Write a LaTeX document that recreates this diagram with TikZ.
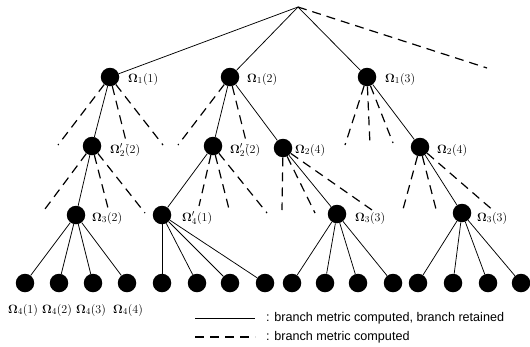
\documentclass[tikz,border=0pt]{standalone}
\usepackage{fontspec}
\usepackage{bm}
\newfontfamily\legendfont{Liberation Sans}
\newcommand{\Om}{\bm{\Omega}}
\begin{document}
\begin{tikzpicture}[x=1pt,y=-1pt,
  dot/.style={circle,fill=black,inner sep=0pt,minimum size=18.5pt},
  keep/.style={line width=0.75pt},
  comp/.style={line width=1.2pt,dash pattern=on 9pt off 6pt},
  lab/.style={anchor=west,inner sep=0pt,font=\fontsize{13}{15}\selectfont},
  blab/.style={anchor=center,inner sep=0pt,font=\fontsize{13}{15}\selectfont},
  leg/.style={anchor=west,inner sep=0pt,font=\legendfont\fontsize{12.6}{14}\selectfont},
]
\useasboundingbox (0,0) rectangle (530,346);
% root and free ends
\coordinate (r) at (298,7);
\coordinate (d0) at (487,68);
% level 1
\node[dot] (a1) at (110,77) {};
\node[dot] (a2) at (230,77) {};
\node[dot] (a3) at (367,77) {};
% level 2
\node[dot] (b1) at (92,146) {};
\node[dot] (b2) at (213,146) {};
\node[dot] (b3) at (283,148) {};
\node[dot] (b4) at (420,147) {};
% level 3
\node[dot] (c1) at (76,215) {};
\node[dot] (c2) at (162,215) {};
\node[dot] (c3) at (337,214) {};
\node[dot] (c4) at (462,213) {};
% level 4
\foreach \i/\x in {1/25,2/59,3/93,4/127,5/162,6/197,7/230,8/265,9/292,10/325,11/358,12/393,13/418,14/453,15/488,16/521}
  \node[dot] (n\i) at (\x,283) {};
% free ends of computed branches
\coordinate (e1a) at (58,145);
\coordinate (e1b) at (127,145);
\coordinate (e1c) at (163,145);
\coordinate (e2a) at (178,145);
\coordinate (e2b) at (247,145);
\coordinate (e3a) at (345,145);
\coordinate (e3b) at (370,145);
\coordinate (e3c) at (393,143);
\coordinate (f1a) at (42,213);
\coordinate (f1b) at (108,208);
\coordinate (f1c) at (145,213);
\coordinate (f2a) at (199,206);
\coordinate (f2b) at (230,213);
\coordinate (f2c) at (267,213);
\coordinate (g1) at (282,210);
\coordinate (g2) at (315,213);
\coordinate (g3) at (372,210);
\coordinate (h1) at (402,213);
\coordinate (h2) at (437,213);
\coordinate (h3) at (495,212);
% retained branches
\draw[keep] (r) -- (a1);
\draw[keep] (r) -- (a2);
\draw[keep] (r) -- (a3);
\draw[keep] (a1) -- (b1);
\draw[keep] (a2) -- (b2);
\draw[keep] (a2) -- (b3);
\draw[keep] (a3) -- (b4);
\draw[keep] (b1) -- (c1);
\draw[keep] (b2) -- (c2);
\draw[keep] (b3) -- (c3);
\draw[keep] (b4) -- (c4);
\foreach \i in {1,2,3,4} \draw[keep] (c1) -- (n\i);
\foreach \i in {5,6,7,8} \draw[keep] (c2) -- (n\i);
\foreach \i in {9,10,11,12} \draw[keep] (c3) -- (n\i);
\foreach \i in {13,14,15,16} \draw[keep] (c4) -- (n\i);
% computed-only branches
\draw[comp] (r) -- (d0);
\foreach \e in {e1a,e1b,e1c} \draw[comp] (a1) -- (\e);
\foreach \e in {e2a,e2b} \draw[comp] (a2) -- (\e);
\foreach \e in {e3a,e3b,e3c} \draw[comp] (a3) -- (\e);
\foreach \e in {f1a,f1b,f1c} \draw[comp] (b1) -- (\e);
\foreach \e in {f2a,f2b,f2c} \draw[comp] (b2) -- (\e);
\foreach \e in {g1,g2,g3} \draw[comp] (b3) -- (\e);
\foreach \e in {h1,h2,h3} \draw[comp] (b4) -- (\e);
% labels
\node[lab] (la1) at (128,79) {$\Om_1(1)$};
\node[lab] (la2) at (247,79) {$\Om_1(2)$};
\node[lab] (la3) at (385,79) {$\Om_1(3)$};
\node[lab] (lb1) at (110,150) {$\Om'_2(2)$};
\node[lab] (lb2) at (230,150) {$\Om'_2(2)$};
\node[lab] (lb3) at (295,150) {$\Om_2(4)$};
\node[lab] (lb4) at (437,150) {$\Om_2(4)$};
\node[lab] (lc1) at (92,218) {$\Om_3(2)$};
\node[lab] (lc2) at (182,218) {$\Om'_4(1)$};
\node[lab] (lc3) at (355,218) {$\Om_3(3)$};
\node[lab] (lc4) at (477,218) {$\Om_3(3)$};
\node[blab] (ln1) at (23,310) {$\Om_4(1)$};
\node[blab] (ln2) at (57,310) {$\Om_4(2)$};
\node[blab] (ln3) at (91,310) {$\Om_4(3)$};
\node[blab] (ln4) at (128,310) {$\Om_4(4)$};
% legend
\coordinate (lg1) at (195,318);
\coordinate (lg2) at (255,318);
\coordinate (lg3) at (195,337);
\coordinate (lg4) at (255,337);
\draw[keep,line width=0.9pt] (lg1) -- (lg2);
\draw[comp] (lg3) -- (lg4);
\node[leg] (t1) at (266,318) {: branch metric computed, branch retained};
\node[leg] (t2) at (266,337) {: branch metric computed};
\end{tikzpicture}
\end{document}
